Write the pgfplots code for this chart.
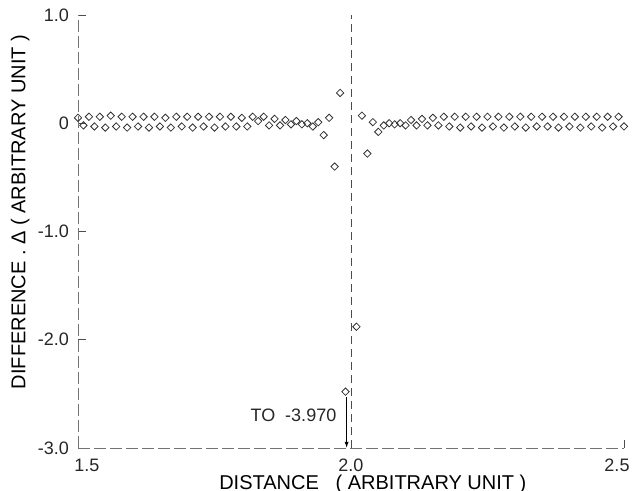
\documentclass[border=0pt]{standalone}
\usepackage{fontspec}
\setmainfont{Liberation Sans}
\usepackage{pgfplots}
\pgfplotsset{compat=1.18}
\usepackage{pgfplotstable}
\usetikzlibrary{arrows.meta}

\pgfplotstableread{
x y
1.50 0.05
1.51 -0.02
1.52 0.06
1.53 -0.03
1.54 0.06
1.55 -0.04
1.56 0.07
1.57 -0.03
1.58 0.06
1.59 -0.04
1.60 0.06
1.61 -0.03
1.62 0.06
1.63 -0.04
1.64 0.06
1.65 -0.03
1.66 0.05
1.67 -0.04
1.68 0.06
1.69 -0.03
1.70 0.06
1.71 -0.04
1.72 0.06
1.73 -0.03
1.74 0.06
1.75 -0.04
1.76 0.06
1.77 -0.03
1.78 0.06
1.79 -0.03
1.80 0.05
1.81 -0.03
1.82 0.06
1.83 0.02
1.84 0.06
1.85 -0.02
1.86 0.04
1.87 -0.02
1.88 0.03
1.89 -0.01
1.90 0.02
1.91 -0.01
1.92 0.00
1.93 -0.03
1.94 0.01
1.95 -0.11
1.96 0.05
1.97 -0.40
1.98 0.28
1.99 -2.48
2.00 -3.97
2.01 -1.88
2.02 0.07
2.03 -0.28
2.04 0.01
2.05 -0.08
2.06 -0.02
2.07 0.00
2.08 -0.01
2.09 0.00
2.10 -0.02
2.11 0.03
2.12 -0.02
2.13 0.04
2.14 -0.02
2.15 0.05
2.16 -0.02
2.17 0.06
2.18 -0.03
2.19 0.06
2.20 -0.04
2.21 0.06
2.22 -0.03
2.23 0.06
2.24 -0.04
2.25 0.06
2.26 -0.03
2.27 0.06
2.28 -0.04
2.29 0.06
2.30 -0.03
2.31 0.06
2.32 -0.04
2.33 0.06
2.34 -0.03
2.35 0.06
2.36 -0.03
2.37 0.06
2.38 -0.04
2.39 0.06
2.40 -0.03
2.41 0.06
2.42 -0.04
2.43 0.06
2.44 -0.03
2.45 0.06
2.46 -0.04
2.47 0.06
2.48 -0.03
2.49 0.06
2.50 -0.03
}\diffdata

\begin{document}
\begin{tikzpicture}
\path[use as bounding box] (-39pt,-21.5pt) rectangle (277.5pt,224pt);
\begin{axis}[
	at={(0,0)}, anchor=south west,
	scale only axis,
	width=273pt, height=216.5pt,
	xmin=1.5, xmax=2.5,
	ymin=-3.0, ymax=1.0,
	axis lines=left,
	axis line style={-, black!55, line width=0.4pt, dash pattern=on 6pt off 2pt},
	tick align=inside,
	major tick length=4pt,
	tick style={black!70, line width=0.4pt, solid},
	xtick={1.5,2.0,2.5},
	xticklabels={{\hspace*{9pt}1.5},2.0,{2.5\hspace*{7pt}}},
	ytick={-3,-2,-1,0,1},
	yticklabels={-3.0,-2.0,-1.0,0,1.0},
	ticklabel style={font=\fontsize{9}{10}\selectfont, text=black!85},
	xticklabel style={yshift=-2pt},
	yticklabel style={xshift=-1pt},
	label style={font=\fontsize{9}{10}\selectfont, text=black!85},
	xlabel={DISTANCE \ \ ( ARBITRARY UNIT )},
	ylabel={DIFFERENCE . Δ ( ARBITRARY UNIT )},
	every axis x label/.style={at={(axis description cs:0.54,-0.083)}, anchor=center},
	every axis y label/.style={at={(axis description cs:-0.106,0.545)}, anchor=center, rotate=90},
	clip=true,
]
\addplot[black!70, line width=0.4pt, dash pattern=on 4pt off 2.5pt]
	coordinates {(2.0,-3.0) (2.0,1.0)};
\addplot[only marks, mark=square, mark size=1.3pt,
	mark options={rotate=45, fill=white, draw=black!80, line width=0.4pt}]
	table[x=x, y=y] {\diffdata};
\addplot[black, line width=0.5pt, -{Latex[length=3pt,width=2pt]}]
	coordinates {(1.992,-2.53) (1.992,-3.0)};
\node[anchor=east, font=\fontsize{9}{10}\selectfont, text=black!85]
	at (axis cs:1.986,-2.70) {TO \ -3.970};
\end{axis}
\end{tikzpicture}
\end{document}
